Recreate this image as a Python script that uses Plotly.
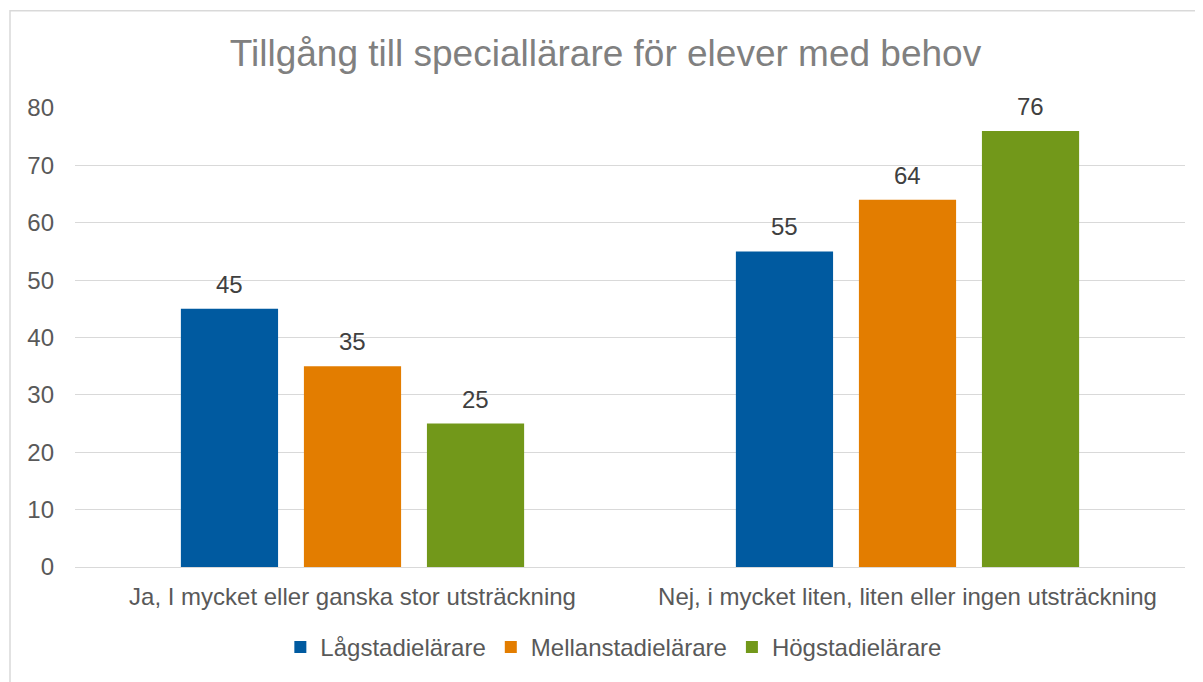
import plotly.graph_objects as go

categories = ["Ja, I mycket eller ganska stor utsträckning",
              "Nej, i mycket liten, liten eller ingen utsträckning"]
series_names = ["Lågstadielärare", "Mellanstadielärare", "Högstadielärare"]
lag = [45, 55]
mellan = [35, 64]
hog = [25, 76]
y_ticks = [0, 10, 20, 30, 40, 50, 60, 70, 80]

colors = ["#005AA0", "#E37D00", "#72981A"]
bargap = 0.335
font = "Liberation Sans, Arial, sans-serif"

# page body adds an 8px margin, so the figure is a bit smaller than the window
W, H = 1195, 674
L, T, PW, PH = 67, 100, 1110, 463

fig = go.Figure()
for name, vals, col in zip(series_names, [lag, mellan, hog], colors):
    fig.add_trace(go.Bar(x=categories, y=vals, name=name, marker_color=col,
                         marker_line_width=0))

# data labels above each bar
slot = (1 - bargap) / 3
annotations = []
for j, vals in enumerate([lag, mellan, hog]):
    for i, v in enumerate(vals):
        annotations.append(dict(x=i + (j - 1) * slot, y=v, text=str(v),
                                showarrow=False, yanchor="bottom", yshift=9,
                                font=dict(size=24, color="#404040", family=font)))

fig.update_layout(
    width=W, height=H,
    paper_bgcolor="white", plot_bgcolor="white",
    font=dict(family=font, color="#595959", size=24),
    title=dict(text="Tillgång till speciallärare för elever med behov",
               x=0.5, xanchor="center", y=1 - 45 / H, yanchor="middle",
               font=dict(size=37, color="#808080", family=font)),
    margin=dict(l=L, r=W - L - PW, t=T, b=H - T - PH),
    barmode="group", bargap=bargap, bargroupgap=0.21,
    showlegend=True,
    legend=dict(orientation="h", x=0.485, xanchor="center", y=-0.175,
                yanchor="middle", font=dict(size=24, color="#595959"),
                itemwidth=30, traceorder="normal"),
    xaxis=dict(showgrid=False, showline=True, linecolor="#d9d9d9", linewidth=1,
               ticks="", tickfont=dict(size=24, color="#595959"),
               ticklabelstandoff=8),
    yaxis=dict(range=[0, 80], tickvals=y_ticks, showgrid=True,
               gridcolor="#d9d9d9", gridwidth=1, zeroline=False,
               ticks="", tickfont=dict(size=24, color="#595959"),
               ticklabelstandoff=20),
    annotations=annotations,
    shapes=[dict(type="rect", xref="paper", yref="paper",
                 x0=(2 - L) / PW, x1=1.2, y0=-0.5, y1=1 + (T - 2) / PH,
                 line=dict(color="#d9d9d9", width=1.5), layer="below")],
)

fig.write_html("out.html")
